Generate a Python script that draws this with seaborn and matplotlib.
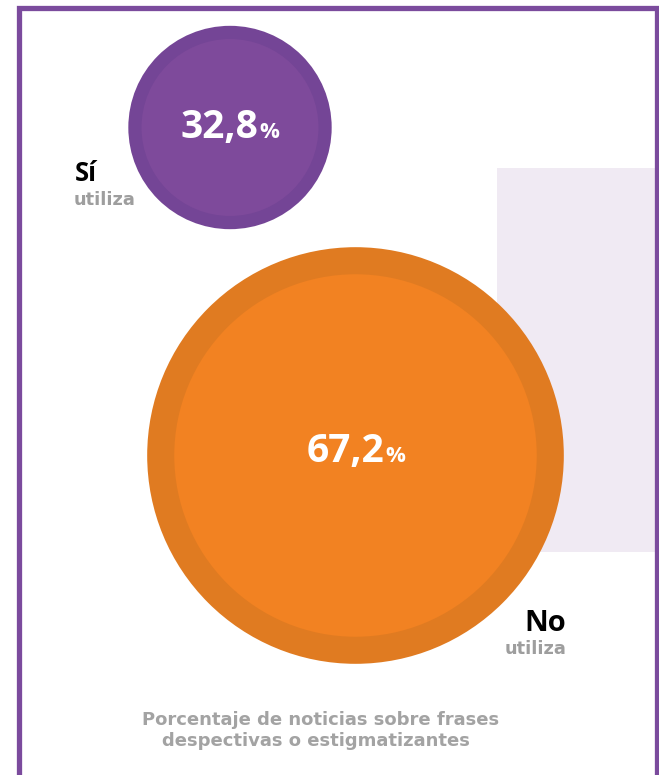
import matplotlib
matplotlib.use("Agg")
import matplotlib.pyplot as plt
from matplotlib.patches import Circle, Rectangle
import seaborn as sns

# ---- data ----
categories = ["Sí", "No"]
sublabels = ["utiliza", "utiliza"]
values = [32.8, 67.2]
value_labels = ["32,8", "67,2"]
caption = ["Porcentaje de noticias sobre frases", "despectivas o estigmatizantes"]

sns.set_theme(style="white")
plt.rcParams["font.family"] = ["Open Sans", "DejaVu Sans"]
wide = ["DejaVu Sans"]

W, H = 659, 775
fig = plt.figure(figsize=(W / 100, H / 100), dpi=100)
ax = fig.add_axes([0, 0, 1, 1])
ax.set_xlim(0, W)
ax.set_ylim(H, 0)
ax.axis("off")

frame_c = "#7B4B9D"
# frame (left, top, right)
ax.plot([18.5, 18.5, 656.5, 656.5], [H + 5, 7.5, 7.5, H + 5], color=frame_c,
        lw=3.8, solid_joinstyle="miter", zorder=5)
# light panel
ax.add_patch(Rectangle((497, 168), 158, 384, color="#F0EAF3", lw=0, zorder=1))

scale = 3.1  # pixels per percentage point (radius)
centers = [(230, 127.5), (355.5, 455.5)]
outer_cols = ["#744596", "#E07B21"]
inner_cols = ["#7E4A9B", "#F28222"]
baselines = [138, 462]

fig.canvas.draw()
rend = fig.canvas.get_renderer()

for v, lab, (cx, cy), oc, ic, bl in zip(values, value_labels, centers,
                                          outer_cols, inner_cols, baselines):
    r = v * scale
    ax.add_patch(Circle((cx, cy), r, color=oc, lw=0, zorder=2))
    ax.add_patch(Circle((cx, cy), r * 0.87, color=ic, lw=0, zorder=3))
    t1 = ax.text(0, bl, lab, color="white", fontsize=28, fontweight="bold",
                 ha="left", va="baseline", zorder=6)
    t2 = ax.text(0, bl, "%", color="white", fontsize=16, fontweight="bold",
                 ha="left", va="baseline", zorder=6)
    w1 = t1.get_window_extent(rend).width
    w2 = t2.get_window_extent(rend).width
    gap = 1
    x0 = cx - (w1 + gap + w2) / 2
    t1.set_x(x0)
    t2.set_x(x0 + w1 + gap)

# category labels
ax.text(75, 181, categories[0], color="black", fontsize=18.5, fontweight="bold",
        ha="left", va="baseline", zorder=6)
ax.text(74, 205, sublabels[0], color="#9E9E9E", fontsize=12.8, fontweight="bold",
        ha="left", va="baseline", zorder=6, family=wide)
ax.text(566, 631, categories[1], color="black", fontsize=21, fontweight="bold",
        ha="right", va="baseline", zorder=6)
ax.text(567, 654, sublabels[1], color="#9E9E9E", fontsize=12.8, fontweight="bold",
        ha="right", va="baseline", zorder=6, family=wide)

# caption
ax.text(321, 725, caption[0], color="#A3A3A3", fontsize=13, fontweight="bold",
        ha="center", va="baseline", zorder=6, family=wide)
ax.text(316, 746, caption[1], color="#A3A3A3", fontsize=13, fontweight="bold",
        ha="center", va="baseline", zorder=6, family=wide)

fig.savefig("out.png", dpi=100, facecolor="white")
